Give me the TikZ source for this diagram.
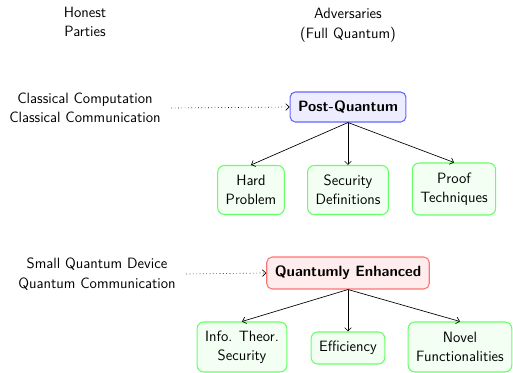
\documentclass[tikz,border=0pt]{standalone}
\usetikzlibrary{arrows.meta}
\begin{document}
\begin{tikzpicture}[x=0.75pt,y=-0.75pt,font=\sffamily\fontsize{11.2}{14.6}\selectfont,
  lbl/.style={align=center},
  mainbox/.style={draw, rounded corners=4pt, line width=0.8pt, inner xsep=6pt, inner ysep=3pt, font=\sffamily\bfseries\fontsize{11.2}{14.6}\selectfont},
  pqbox/.style={mainbox, draw=blue!60, fill=blue!7, minimum height=30*0.75pt},
  qebox/.style={mainbox, draw=red!55, fill=red!7, minimum height=32*0.75pt},
  subbox/.style={draw=green!60, fill=green!5, line width=0.8pt, rounded corners=5pt, align=center, inner xsep=6pt, inner ysep=3pt},
  arr/.style={-{Straight Barb[length=2.5pt,width=5pt]}, line width=0.5pt},
  dotarr/.style={arr, dotted}]
\useasboundingbox (0,0) rectangle (513,373);
\node[lbl] (hon) at (85,22) {Honest\\Parties};
\node[lbl] (adv) at (348,25) {Adversaries\\(Full Quantum)};

\node[lbl] (cc) at (85,108) {Classical Computation\\Classical Communication};
\node[pqbox] (pq) at (348,107) {Post-Quantum};
\node[subbox, minimum height=49*0.75pt] (hp) at (251,190) {Hard\\Problem};
\node[subbox, minimum height=49*0.75pt] (sd) at (348,190) {Security\\Definitions};
\node[subbox, minimum height=52*0.75pt] (pt) at (454,189) {Proof\\Techniques};
\draw[dotarr] ([xshift=4.5pt]cc.east) -- (pq.west);
\draw[arr] (pq.south) -- (hp.north);
\draw[arr] (pq.south) -- (sd.north);
\draw[arr] (pq.south) -- (pt.north);

\node[lbl] (sq) at (97,274) {Small Quantum Device\\Quantum Communication};
\node[qebox] (qe) at (348,273) {Quantumly Enhanced};
\node[subbox, minimum height=50*0.75pt] (it) at (242,347) {Info.  Theor.\\Security};
\node[subbox, minimum height=32*0.75pt] (ef) at (348,348) {Efficiency};
\node[subbox, minimum height=50*0.75pt] (nf) at (460,347) {Novel\\Functionalities};
\draw[dotarr] ([xshift=4.5pt]sq.east) -- (qe.west);
\draw[arr] (qe.south) -- (it.north);
\draw[arr] (qe.south) -- (ef.north);
\draw[arr] (qe.south) -- (nf.north);
\end{tikzpicture}
\end{document}
